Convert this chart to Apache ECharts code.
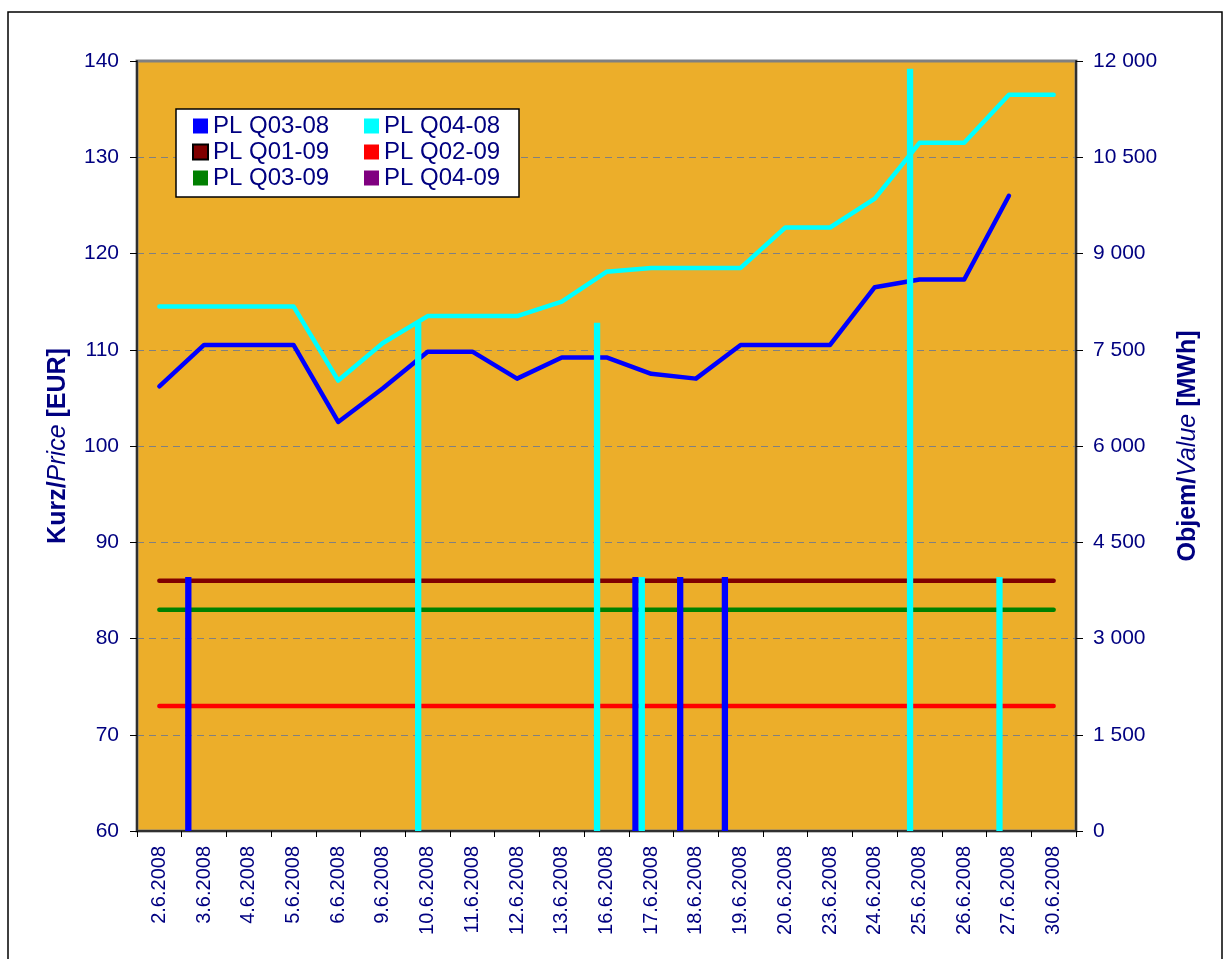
<!DOCTYPE html>
<html>
<head>
<meta charset="utf-8">
<script src="https://cdn.jsdelivr.net/npm/echarts@6/dist/echarts.min.js"></script>
<style>html,body{margin:0;padding:0;background:#fff;}#c{width:1223px;height:959px;}</style>
</head>
<body>
<div id="c"></div>
<script>
const categories = ['2.6.2008','3.6.2008','4.6.2008','5.6.2008','6.6.2008','9.6.2008','10.6.2008','11.6.2008','12.6.2008','13.6.2008','16.6.2008','17.6.2008','18.6.2008','19.6.2008','20.6.2008','23.6.2008','24.6.2008','25.6.2008','26.6.2008','27.6.2008','30.6.2008'];
const priceTicks = [60,70,80,90,100,110,120,130,140];
const volumeTicks = [0,1500,3000,4500,6000,7500,9000,10500,12000];

// Price lines (left axis, EUR)
const priceQ0308 = [106.2,110.5,110.5,110.5,102.5,106.0,109.8,109.8,107.0,109.2,109.2,107.5,107.0,110.5,110.5,110.5,116.5,117.3,117.3,126.0,'-'];
const priceQ0408 = [114.5,114.5,114.5,114.5,106.8,110.7,113.5,113.5,113.5,115.0,118.1,118.5,118.5,118.5,122.7,122.7,125.7,131.5,131.5,136.5,136.5];
const priceQ0109 = [86,86,86,86,86,86,86,86,86,86,86,86,86,86,86,86,86,86,86,86,86];
const priceQ0209 = [73,73,73,73,73,73,73,73,73,73,73,73,73,73,73,73,73,73,73,73,73];
const priceQ0309 = [83,83,83,83,83,83,83,83,83,83,83,83,83,83,83,83,83,83,83,83,83];

// Volumes (right axis, MWh)
const volQ0308 = ['-',3960,'-','-','-','-','-','-','-','-','-',3960,3960,3960,'-','-','-','-','-','-','-'];
const volQ0408 = ['-','-','-','-','-','-',7920,'-','-','-',7920,3960,'-','-','-','-','-',11880,'-',3960,'-'];
const volQ0109 = [];
const volQ0209 = [];
const volQ0309 = [];
const volQ0409 = [];

const names = ['PL Q03-08','PL Q04-08','PL Q01-09','PL Q02-09','PL Q03-09','PL Q04-09'];
const colors = ['#0000FF','#00FFFF','#800000','#FF0000','#008000','#800080'];

const FONT = '"Liberation Sans", Arial, sans-serif';
const NAVY = '#000080';

function fmtThousands(v){ return String(v).replace(/\B(?=(\d{3})+(?!\d))/g,' '); }

const volumes = [volQ0308, volQ0408, volQ0109, volQ0209, volQ0309, volQ0409];
const barSeries = names.map((n,i)=>({
  name:n, type:'bar', yAxisIndex:1, data:volumes[i], barWidth:6.3, barGap:'0%',
  itemStyle:{color:colors[i]}, z:4, animation:false
}));
function lineS(n, data, color){
  return {name:n, type:'line', yAxisIndex:0, data:data, showSymbol:false, symbol:'none',
    lineStyle:{color:color, width:4.5, cap:'round', join:'round'}, itemStyle:{color:color}, z:3, animation:false};
}
const lineSeries = [
  lineS('PL Q03-08', priceQ0308, colors[0]),
  lineS('PL Q04-08', priceQ0408, colors[1]),
  lineS('PL Q01-09', priceQ0109, colors[2]),
  lineS('PL Q02-09', priceQ0209, colors[3]),
  lineS('PL Q03-09', priceQ0309, colors[4])
];

const legendCommon = {
  orient:'vertical', icon:'rect', itemWidth:15, itemHeight:15, itemGap:2, padding:0, z:20,
  selectedMode:false,
  textStyle:{fontFamily:FONT, fontSize:24, lineHeight:22, color:NAVY}
};

const chart = echarts.init(document.getElementById('c'), null, {renderer:'canvas'});
chart.setOption({
  animation:false,
  backgroundColor:'#fff',
  graphic:[
    {type:'rect', z:0, shape:{x:8, y:12, width:1214, height:960}, style:{fill:'none', stroke:'#000', lineWidth:1.5}},
    {type:'rect', z:15, shape:{x:176, y:109, width:343, height:88}, style:{fill:'#fff', stroke:'#000', lineWidth:1.5}}
  ],
  legend:[
    Object.assign({left:192, top:114, data:[names[0], {name:names[2], itemStyle:{borderColor:'#000', borderWidth:2}}, names[4]]}, legendCommon),
    Object.assign({left:364, top:114, data:[names[1], names[3], names[5]]}, legendCommon)
  ],
  grid:{left:137, right:147, top:61, bottom:128, show:true, backgroundColor:'#ECAE2A', borderColor:'#808080', borderWidth:3, containLabel:false},
  xAxis:{
    type:'category', data:categories, boundaryGap:true,
    axisLine:{lineStyle:{color:'#303030', width:2}},
    axisTick:{show:true, length:6, lineStyle:{color:'#000'}},
    axisLabel:{rotate:90, interval:0, margin:15, color:NAVY, fontFamily:FONT, fontSize:20}
  },
  yAxis:[
    {
      type:'value', min:priceTicks[0], max:priceTicks[priceTicks.length-1], interval:10, position:'left',
      name:'{b|Kurz/}{i|Price}{b| [EUR]}', nameLocation:'middle', nameRotate:90, nameGap:66,
      nameTextStyle:{rich:{
        b:{fontFamily:FONT, fontWeight:'bold', fontSize:25, color:NAVY},
        i:{fontFamily:FONT, fontStyle:'italic', fontSize:25, color:NAVY}
      }},
      axisLine:{show:true, lineStyle:{color:'#303030', width:2}},
      axisTick:{show:true, length:7, lineStyle:{color:'#000'}},
      axisLabel:{margin:18, color:NAVY, fontFamily:FONT, fontSize:21},
      splitLine:{show:true, lineStyle:{color:'#808080', type:[7,5], width:1}}
    },
    {
      type:'value', min:volumeTicks[0], max:volumeTicks[volumeTicks.length-1], interval:1500, position:'right',
      name:'{b|Objem/}{i|Value}{b| [MWh]}', nameLocation:'middle', nameRotate:90, nameGap:100,
      nameTextStyle:{rich:{
        b:{fontFamily:FONT, fontWeight:'bold', fontSize:25, color:NAVY},
        i:{fontFamily:FONT, fontStyle:'italic', fontSize:25, color:NAVY}
      }},
      axisLine:{show:true, lineStyle:{color:'#303030', width:2}},
      axisTick:{show:true, length:7, lineStyle:{color:'#000'}},
      axisLabel:{margin:17, color:NAVY, fontFamily:FONT, fontSize:21, formatter:fmtThousands},
      splitLine:{show:false}
    }
  ],
  series: barSeries.concat(lineSeries)
});
</script>
</body>
</html>
